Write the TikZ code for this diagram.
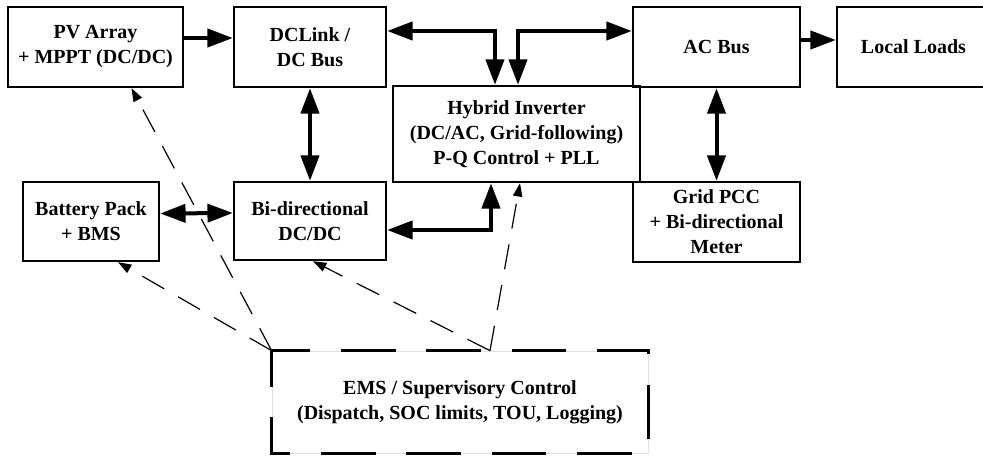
\documentclass[tikz,border=0pt]{standalone}
\usepackage{fontspec}
\setmainfont{Liberation Serif}
\usetikzlibrary{arrows.meta,calc}

\tikzset{every picture/.style={line width=0.75pt}}
\tikzset{
	blk/.style={draw, rectangle, line width=1.8pt, inner sep=0pt, align=center, minimum height=60pt, font=\fontsize{15}{18.75}\selectfont\bfseries},
	bus/.style={line width=3pt, >={Triangle[length=19pt,width=13.5pt]}},
	ctrl/.style={line width=0.9pt, dash pattern=on 19pt off 12pt, >={Triangle[length=10pt,width=7pt]}},
}

\begin{document}
\begin{tikzpicture}[x=0.75pt,y=0.75pt,yscale=-1,xscale=1]
	\useasboundingbox (0,0) rectangle (983,457); %set diagram to 983 x 457
	
	% Blocks
	\node [blk, minimum width=131.25pt] (pv) at (95.5,47) {PV Array\\+ MPPT (DC/DC)};
	\node [blk, minimum width=114pt] (dclink) at (310,47) {DCLink /\\DC Bus};
	\node [blk, minimum width=185.25pt, minimum height=72pt] (inv) at (516.5,134) {Hybrid Inverter\\(DC/AC, Grid-following)\\P-Q Control + PLL};
	\node [blk, minimum width=125.25pt] (acbus) at (716.5,47) {AC Bus};
	\node [blk, minimum width=114.75pt] (loads) at (913.5,47) {Local Loads};
	\node [blk, minimum width=125.25pt] (pcc) at (716.5,222) {Grid PCC\\+ Bi-directional\\Meter};
	\node [blk, minimum width=102pt, minimum height=59.25pt] (bat) at (91,221.5) {Battery Pack\\+ BMS};
	\node [blk, minimum width=114pt, minimum height=58.5pt] (bidc) at (310,221) {Bi-directional\\DC/DC};
	% EMS (dashed frame)
	\node [blk, draw=black!12, line width=0.5pt, minimum width=282pt, minimum height=76.5pt] (ems) at (460,402) {EMS / Supervisory Control\\(Dispatch, SOC limits, TOU, Logging)};
	\draw [line width=2.2pt, dash pattern=on 41pt off 23pt, dash phase=14pt] (ems.north west) -- (ems.south west) -- (ems.south east) -- (ems.north east) -- cycle;
	
	% Power flow
	\draw [bus,->] ($(pv.east)+(0,-9)$) -- ($(dclink.west)+(0,-9)$);
	\draw [bus,<->] (dclink) -- (bidc);
	\draw [bus,<->] ($(dclink.east)+(0,-16)$) -| ($(inv.north)+(-21.5,0)$);
	\draw [bus,<->] ($(inv.north)+(1.5,0)$) |- ($(acbus.west)+(0,-16)$);
	\draw [bus,->] ($(acbus.east)+(0,-7)$) -- ($(loads.west)+(0,-7)$);
	\draw [bus,<->] (acbus) -- (pcc);
	\draw [bus,<->] ($(bat.east)+(0,-8)$) -- ($(bidc.west)+(0,-8)$);
	\draw [bus,<->] ($(bidc.east)+(0,9)$) -| ($(inv.south)+(-25.5,0)$);
	
	% Control links
	\coordinate (tap) at ($(ems.north)+(30,0)$);
	\draw [ctrl,->] (ems.north west) -- ($(pv.south)+(36,0)$);
	\draw [ctrl,->] (ems.north west) -- ($(bat.south)+(27,0)$);
	\draw [ctrl,->] (tap) -- ($(bidc.south)+(3,0)$);
	\draw [ctrl,->] (tap) -- ($(inv.south)+(3.5,0)$);
\end{tikzpicture}
\end{document}
